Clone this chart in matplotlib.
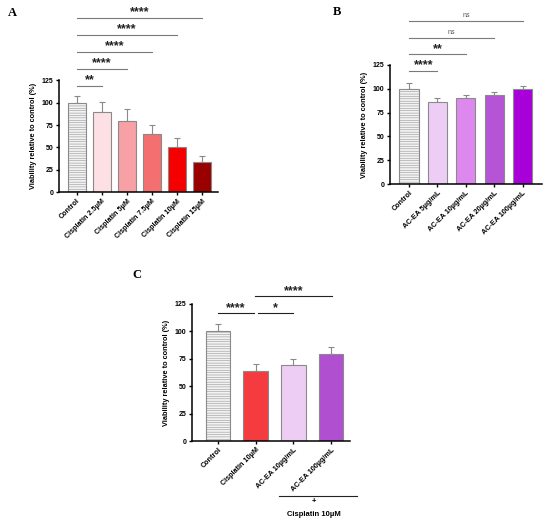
import numpy as np
import matplotlib.pyplot as plt
import matplotlib.transforms as mtransforms

plt.rcParams['font.family'] = ['Liberation Sans', 'DejaVu Sans']
plt.rcParams['hatch.color'] = '#d0d0d0'
plt.rcParams['hatch.linewidth'] = 0.35

# ---- data ----
a_labels = ["Control", "Cisplatin 2.5µM", "Cisplatin 5µM", "Cisplatin 7.5µM",
            "Cisplatin 10µM", "Cisplatin 15µM"]
a_means = [100, 90, 79.5, 64.5, 51, 33.5]
a_err = [7, 11, 14, 10.5, 10, 6.5]
a_colors = ["#f2f2f2", "#fde0e3", "#f7a0a5", "#f47070", "#f50000", "#9b0000"]
a_sig = [(1, "**"), (2, "****"), (3, "****"), (4, "****"), (5, "****")]
a_sig_y = [119, 138, 157, 176, 195]

b_labels = ["Control", "AC-EA 5µg/mL", "AC-EA 10µg/mL", "AC-EA 20µg/mL", "AC-EA 100µg/mL"]
b_means = [100, 86, 90.5, 93.5, 99.5]
b_err = [6.5, 4.5, 3.5, 3.5, 3.5]
b_colors = ["#f2f2f2", "#eecdf5", "#dd88ee", "#b555d5", "#a800d8"]
b_sig = [(1, "****"), (2, "**"), (3, "ns"), (4, "ns")]
b_sig_y = [119, 136.5, 153, 171]

c_labels = ["Control", "Cisplatin 10µM", "AC-EA 10µg/mL", "AC-EA 100µg/mL"]
c_means = [100, 63.5, 69.5, 79]
c_err = [7, 7, 5.5, 6.5]
c_colors = ["#f2f2f2", "#f43c40", "#eecdf5", "#b050d0"]
c_sig = [(0.0, 0.95, 117, "****"), (1.05, 2.0, 117, "*"), (0.98, 3.02, 132, "****")]


def draw_panel(ax, labels, means, err, colors, width):
    x = np.arange(len(labels))
    for i in x:
        ax.bar(i, means[i], width=width, color=colors[i], edgecolor='#8a8a8a',
               linewidth=0.8, hatch='-------' if i == 0 else None, zorder=2)
        ax.errorbar(i, means[i], yerr=[[0], [err[i]]], color='#8a8a8a',
                    capsize=2.5, elinewidth=0.8, capthick=0.8, zorder=1)
    ax.set_ylim(0, 125)
    ax.set_yticks([0, 25, 50, 75, 100, 125])
    ax.set_xticks(x)
    ax.set_xticklabels(labels, rotation=45, ha='right', rotation_mode='anchor',
                       fontsize=5.2, fontweight='bold')
    for t in ax.get_yticklabels():
        t.set_fontsize(5)
        t.set_fontweight('bold')
    ax.tick_params(axis='both', length=2.5, width=1, pad=1.5)
    ax.spines['top'].set_visible(False)
    ax.spines['right'].set_visible(False)
    ax.spines['left'].set_linewidth(1.1)
    ax.spines['bottom'].set_linewidth(1.1)
    ax.set_ylabel("Viability relative to control (%)", fontsize=5.3,
                  fontweight='bold', labelpad=3)


def sig_line(ax, x0, x1, y, text, color='#7a7a7a'):
    ax.plot([x0, x1], [y, y], color=color, lw=0.8, clip_on=False)
    if text == "ns":
        ax.text((x0 + x1) / 2, y + 2, text, ha='center', va='bottom',
                fontsize=5, color='#555555')
    else:
        ax.text((x0 + x1) / 2, y - 1, text, ha='center', va='bottom',
                fontsize=9, fontweight='bold', color='#222222')


fig = plt.figure(figsize=(5.5, 5.25), dpi=100)

# Panel A
axA = fig.add_axes([0.107, 0.634, 0.289, 0.213])
draw_panel(axA, a_labels, a_means, a_err, a_colors, 0.72)
axA.set_xlim(-0.72, 5.64)
for (j, s), yy in zip(a_sig, a_sig_y):
    sig_line(axA, 0, j, yy, s)

# Panel B
axB = fig.add_axes([0.709, 0.6495, 0.276, 0.2267])
draw_panel(axB, b_labels, b_means, b_err, b_colors, 0.67)
axB.set_xlim(-0.67, 4.67)
for (j, s), yy in zip(b_sig, b_sig_y):
    sig_line(axB, 0, j, yy, s)

# Panel C
axC = fig.add_axes([0.349, 0.16, 0.287, 0.261])
draw_panel(axC, c_labels, c_means, c_err, c_colors, 0.66)
axC.set_xlim(-0.69, 3.5)
for x0, x1, yy, s in c_sig:
    sig_line(axC, x0, x1, yy, s, color='#222222')

# "+ Cisplatin 10µM" bracket under panel C
tr = mtransforms.blended_transform_factory(axC.transData, axC.transAxes)
axC.plot([1.62, 3.69], [-0.40, -0.40], color='#222222', lw=0.8,
         transform=tr, clip_on=False)
axC.text(2.55, -0.445, "+", transform=tr, ha='center', va='center',
         fontsize=5.5, fontweight='bold')
axC.text(2.55, -0.54, "Cisplatin 10µM", transform=tr, ha='center', va='center',
         fontsize=5.5, fontweight='bold')

# panel letters
for lab, px, py in [("A", 12, 13), ("B", 337, 12), ("C", 137, 275)]:
    fig.text(px / 550, 1 - py / 525, lab, ha='center', va='center',
             fontsize=9, fontweight='bold', family='Liberation Serif')

fig.savefig('out.png', dpi=100)
